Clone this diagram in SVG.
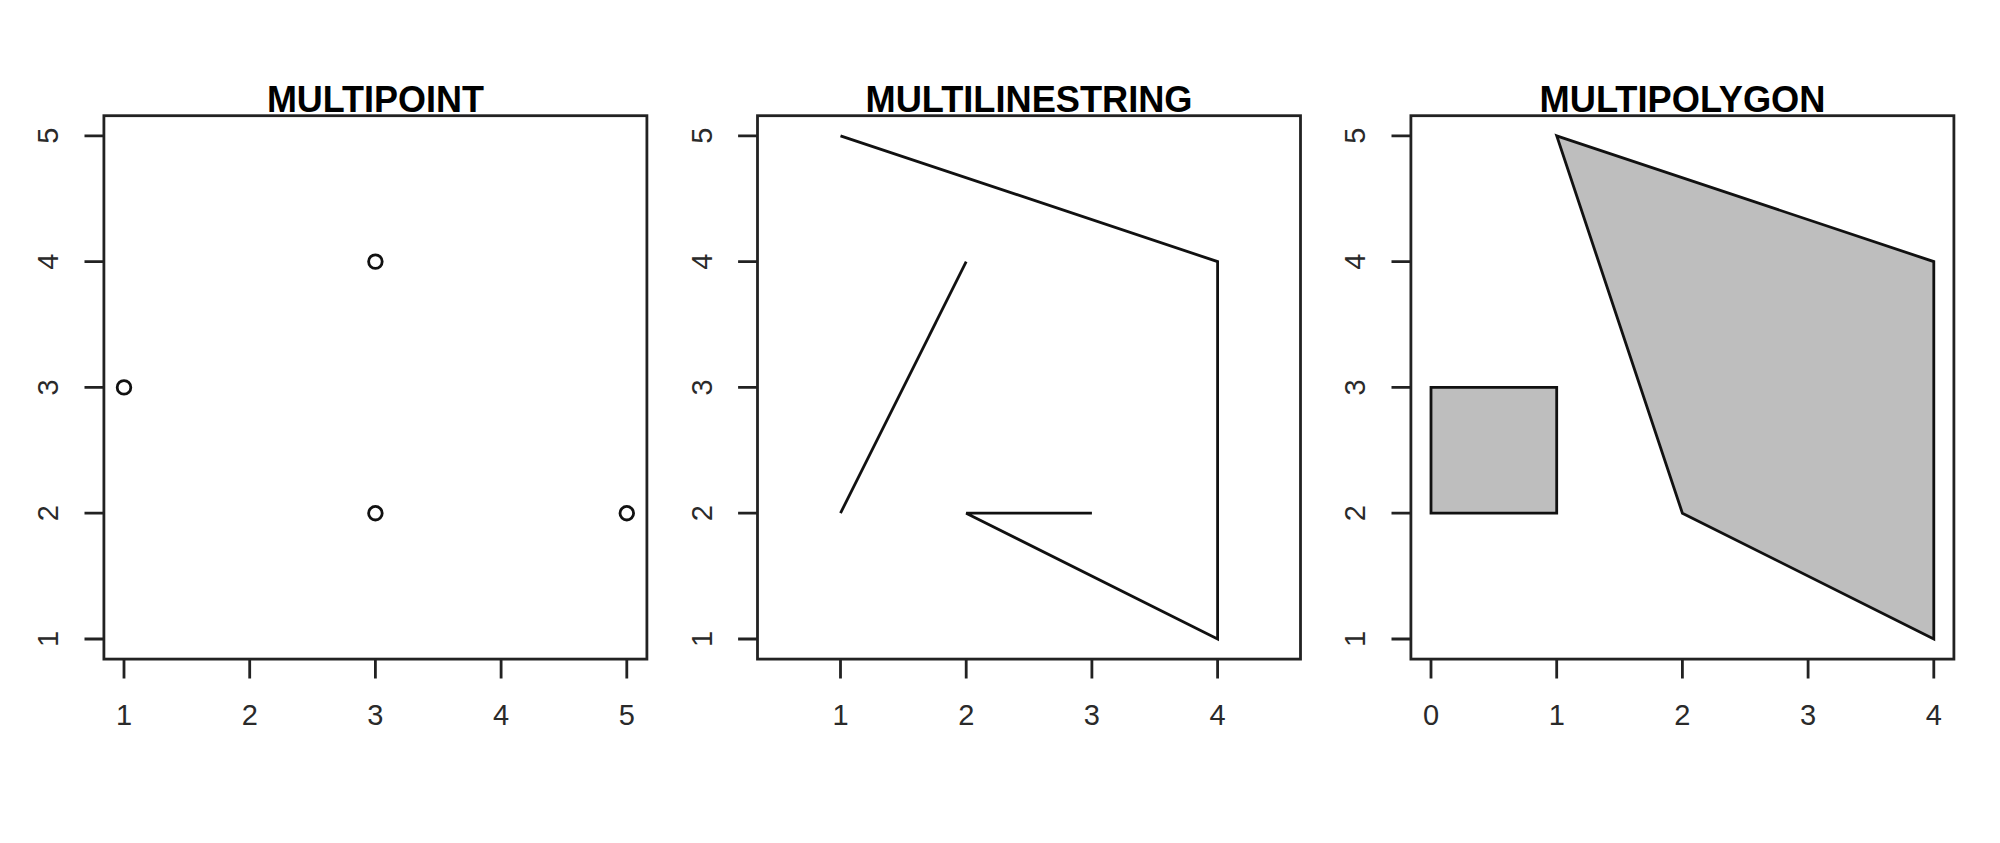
<svg xmlns="http://www.w3.org/2000/svg" width="2000" height="843" viewBox="0 0 2000 843">
<style>
.box{fill:none;stroke:#222;stroke-width:2.8}
.tick{stroke:#222;stroke-width:2.8}
.lab{font-family:"Liberation Sans",Arial,sans-serif;font-size:29px;fill:#2a2a2a;text-anchor:middle}
.title{font-family:"Liberation Sans",Arial,sans-serif;font-size:37px;font-weight:bold;fill:#000;text-anchor:middle}
.geom{fill:none;stroke:#111;stroke-width:2.8;stroke-linejoin:miter}
.poly{fill:#bebebe;stroke:#111;stroke-width:2.8}
.pt{fill:none;stroke:#111;stroke-width:2.8}
</style>
<rect width="2000" height="843" fill="#fff"/>

<g id="panel-multipoint">
<rect class="box" x="103.9" y="115.7" width="543" height="543.4"/>
<text class="title" x="375.4" y="112" textLength="217" lengthAdjust="spacingAndGlyphs">MULTIPOINT</text>
<path class="tick" d="M124,659.1V678.5M249.7,659.1V678.5M375.4,659.1V678.5M501.1,659.1V678.5M626.8,659.1V678.5"/>
<path class="tick" d="M103.9,639H84.5M103.9,513.2H84.5M103.9,387.4H84.5M103.9,261.6H84.5M103.9,135.8H84.5"/>
<text class="lab" x="124" y="725">1</text>
<text class="lab" x="249.7" y="725">2</text>
<text class="lab" x="375.4" y="725">3</text>
<text class="lab" x="501.1" y="725">4</text>
<text class="lab" x="626.8" y="725">5</text>
<text class="lab" transform="translate(58,639) rotate(-90)">1</text>
<text class="lab" transform="translate(58,513.2) rotate(-90)">2</text>
<text class="lab" transform="translate(58,387.4) rotate(-90)">3</text>
<text class="lab" transform="translate(58,261.6) rotate(-90)">4</text>
<text class="lab" transform="translate(58,135.8) rotate(-90)">5</text>
<circle class="pt" cx="124" cy="387.4" r="6.8"/>
<circle class="pt" cx="375.4" cy="513.2" r="6.8"/>
<circle class="pt" cx="375.4" cy="261.6" r="6.8"/>
<circle class="pt" cx="626.8" cy="513.2" r="6.8"/>
</g>

<g id="panel-multilinestring">
<rect class="box" x="757.5" y="115.7" width="543" height="543.4"/>
<text class="title" x="1029" y="112" textLength="327" lengthAdjust="spacingAndGlyphs">MULTILINESTRING</text>
<path class="tick" d="M840.5,659.1V678.5M966.2,659.1V678.5M1091.9,659.1V678.5M1217.6,659.1V678.5"/>
<path class="tick" d="M757.5,639H738.1M757.5,513.2H738.1M757.5,387.4H738.1M757.5,261.6H738.1M757.5,135.8H738.1"/>
<text class="lab" x="840.5" y="725">1</text>
<text class="lab" x="966.2" y="725">2</text>
<text class="lab" x="1091.9" y="725">3</text>
<text class="lab" x="1217.6" y="725">4</text>
<text class="lab" transform="translate(711.5,639) rotate(-90)">1</text>
<text class="lab" transform="translate(711.5,513.2) rotate(-90)">2</text>
<text class="lab" transform="translate(711.5,387.4) rotate(-90)">3</text>
<text class="lab" transform="translate(711.5,261.6) rotate(-90)">4</text>
<text class="lab" transform="translate(711.5,135.8) rotate(-90)">5</text>
<polyline class="geom" points="840.5,135.8 1217.6,261.6 1217.6,639 966.2,513.2 1091.9,513.2"/>
<polyline class="geom" points="840.5,513.2 966.2,261.6"/>
</g>

<g id="panel-multipolygon">
<rect class="box" x="1410.9" y="115.7" width="543" height="543.4"/>
<text class="title" x="1682.5" y="112" textLength="286" lengthAdjust="spacingAndGlyphs">MULTIPOLYGON</text>
<path class="tick" d="M1431,659.1V678.5M1556.7,659.1V678.5M1682.4,659.1V678.5M1808.1,659.1V678.5M1933.8,659.1V678.5"/>
<path class="tick" d="M1410.9,639H1391.5M1410.9,513.2H1391.5M1410.9,387.4H1391.5M1410.9,261.6H1391.5M1410.9,135.8H1391.5"/>
<text class="lab" x="1431" y="725">0</text>
<text class="lab" x="1556.7" y="725">1</text>
<text class="lab" x="1682.4" y="725">2</text>
<text class="lab" x="1808.1" y="725">3</text>
<text class="lab" x="1933.8" y="725">4</text>
<text class="lab" transform="translate(1365,639) rotate(-90)">1</text>
<text class="lab" transform="translate(1365,513.2) rotate(-90)">2</text>
<text class="lab" transform="translate(1365,387.4) rotate(-90)">3</text>
<text class="lab" transform="translate(1365,261.6) rotate(-90)">4</text>
<text class="lab" transform="translate(1365,135.8) rotate(-90)">5</text>
<polygon class="poly" points="1431,513.2 1556.7,513.2 1556.7,387.4 1431,387.4"/>
<polygon class="poly" points="1556.7,135.8 1933.8,261.6 1933.8,639 1682.4,513.2"/>
</g>

<g id="connectors"></g>
</svg>
